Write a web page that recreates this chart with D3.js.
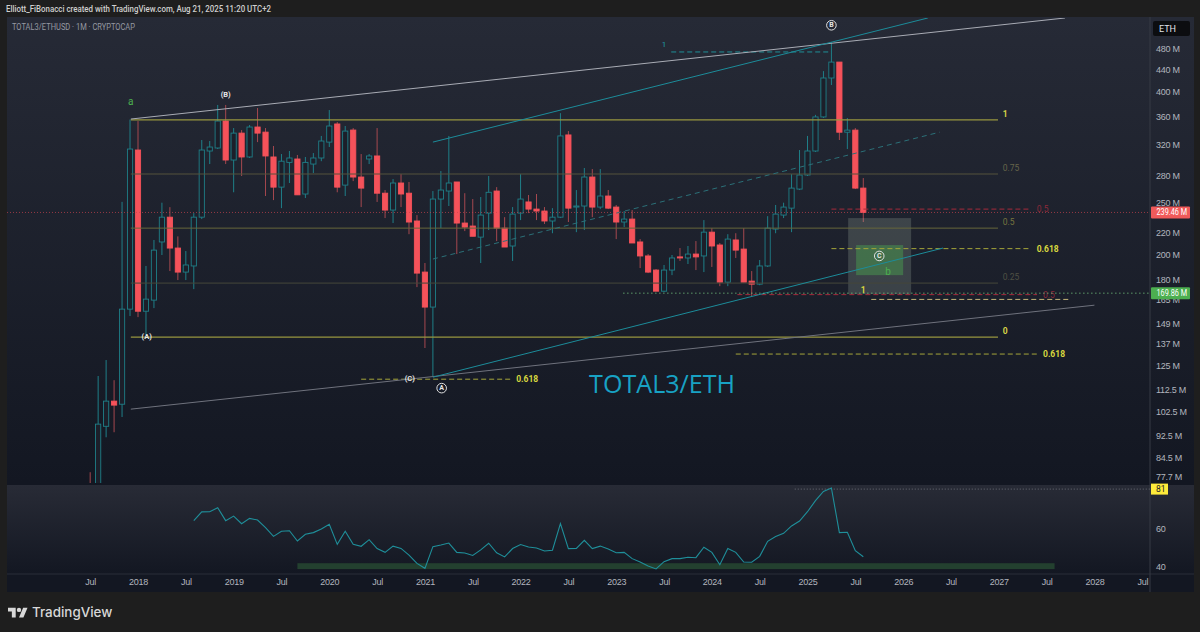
<!DOCTYPE html>
<html>
<head>
<meta charset="utf-8">
<title>TOTAL3/ETH</title>
<script src="https://cdn.jsdelivr.net/npm/d3@7"></script>
<style>
  html, body { margin: 0; padding: 0; background: #1e1e1e; }
  svg { display: block; font-family: Roboto, "Noto Sans", sans-serif; }
  .axis text { fill: #b2b5be; font-size: 9px; letter-spacing: -0.25px; }
  .axis path, .axis line { display: none; }
</style>
</head>
<body>
<div id="chart"></div>
<script>
// month index: 0 = Jan 2018, bars are evenly spaced like on TradingView
const firstMonth = -6;

// open, high, low, close in millions, month by month from Jul 2017
const candles = [
  [72, 79.3, 60, 66], [66, 119.4, 60, 97.3], [96.4, 127.8, 92, 107.3], [107.3, 117.3, 94, 105.5],
  [105.9, 250.5, 100.3, 158.7], [158.7, 355.5, 154.1, 313.6],
  // 2018
  [312.3, 353.3, 153.4, 157.3], [157.3, 190.7, 142.2, 165.6], [164.9, 213, 159.4, 204], [211.2, 249.6, 199.8, 234.7],
  [234.7, 244.9, 186.6, 205.8], [205.8, 216.3, 179.6, 185.8], [185.8, 203.2, 179.6, 191.5], [190.7, 238.8, 172.8, 234.7],
  [234.7, 325.9, 232.8, 312.3], [311, 324.5, 294.2, 316.3], [315, 378.3, 313.6, 353.3], [353.3, 378.3, 294.2, 299.3],
  // 2019
  [299.3, 342.9, 260.9, 335.6], [335.6, 340, 279.6, 303.2], [303.2, 347.4, 301.9, 344.4], [344.4, 373.4, 323, 335.6],
  [337, 342.9, 256.8, 304.5], [303.2, 317.7, 252.4, 266.7], [266.7, 307, 243.9, 297.8], [296.3, 311, 271.4, 301.9],
  [300.6, 305.8, 258.1, 258.1], [259, 303.2, 254.6, 296.3], [294.2, 308.3, 283.2, 301.9], [301.9, 331.6, 297.8, 324.5],
  // 2020
  [323, 370.2, 316.3, 345.9], [348.9, 351.9, 260.9, 266.7], [269, 345.9, 256.8, 338.5], [340, 342.9, 273.6, 278.4],
  [278.4, 307, 245, 265.6], [300.6, 307, 294.2, 304.5], [304.5, 342.9, 250.4, 259.9], [259.9, 263.4, 233.8, 241.9],
  [241.9, 276, 228.9, 271.4], [271.4, 281.9, 245, 259], [259.9, 272.6, 218.3, 229.9], [230.9, 236.8, 174.3, 185],
  // 2021
  [185.8, 193.1, 134.5, 160.1], [160.1, 262.3, 119.4, 253.5], [253.5, 285.6, 224, 263.4], [262.3, 331.6, 246.1, 271.4],
  [272.6, 272.6, 200.6, 228.9], [228.9, 259.9, 221.2, 225], [226, 253.5, 216.4, 216.4], [215.6, 255.7, 193.1, 236.8],
  [238.8, 279.6, 222.2, 260.9], [262.3, 266.7, 212, 224], [224, 234.7, 206.7, 206.7], [207.6, 245, 194.8, 237.8],
  // 2022
  [238.8, 281.9, 231.8, 253.5], [250.4, 257.9, 238.8, 242.9], [242.9, 259, 231.8, 240.9], [240.9, 245, 228, 230.9],
  [230.9, 243.9, 219.2, 234.7], [234.7, 365.3, 233.8, 331.6], [333, 338.5, 229.9, 243.9], [245, 263.4, 220.2, 246.1],
  [246.1, 289.3, 222.2, 278.4], [278.4, 288, 234.7, 245], [245, 288, 242.9, 256.8], [256.8, 263.4, 242.9, 243.9],
  // 2023
  [245, 247.2, 213.8, 229.9], [229.9, 240.9, 225, 232.8], [232.8, 241.9, 210.3, 210.3], [211.2, 213.8, 189, 199],
  [199, 200.6, 185, 185.8], [187.4, 188.2, 171.3, 171.3], [171.3, 191.5, 170.6, 187.4], [187.4, 199.8, 183.4, 197.3],
  [198.2, 205.8, 194.8, 197.3], [197.3, 207.6, 192.3, 200.6], [200.6, 212, 187.4, 198.2], [199, 231.8, 185.8, 220.2],
  // 2024
  [220.2, 224, 189.9, 207.6], [208.5, 210.3, 175, 178], [178, 218.3, 175, 213.8], [213, 219.2, 197.3, 204],
  [204.9, 224, 178, 178], [178.8, 186.6, 167.7, 176.5], [176.5, 195.6, 175.7, 190.7], [190.7, 235.7, 189.9, 224],
  [223.1, 247.2, 219.2, 237.8], [236.8, 249.6, 233.8, 245], [243.9, 281.9, 220.2, 265.6], [264.5, 312.3, 263.4, 280.8],
  // 2025
  [280.8, 331.6, 279.6, 311], [311, 362.7, 309.7, 359.5], [359.5, 436.9, 357.9, 424.3], [424.3, 494.5, 411.8, 454],
  [454, 454, 325.9, 336.9], [336.9, 357.9, 313.6, 339.9], [339.9, 342.9, 264.5, 265.6], [265.6, 277.2, 229.9, 239.46],
];

// RSI, starts Aug 2018
const rsiFirstMonth = 7;
const rsiValues = [
  64.4, 69, 69.1, 71.2, 64.4, 66.8, 62.8, 65.6, 64.7, 60.7, 56.1, 58.8, 59.1, 53.7, 57.2, 58.1, 60, 62.5, 51.9, 58.8,
  51.9, 50.9, 54.4, 49.7, 47.7, 51, 49.8, 46.3, 41.9, 39.3, 50.7, 51.6, 52.6, 47.7, 47.4, 46.1, 49, 52.5, 47.5, 45.3,
  49.7, 51.8, 50.5, 50, 48.4, 48.8, 62.8, 49.7, 49.8, 54, 49.7, 51, 49.5, 47.5, 47.7, 44.4, 42.6, 40.5, 39, 42.8,
  44.4, 44.4, 45.1, 44.9, 50.4, 47.7, 41.2, 49.7, 47.7, 42.6, 42.5, 45.6, 53.5, 56, 57.7, 61.6, 64.2, 69.1, 74.9, 79.8,
  81.6, 58.1, 58.3, 48.6, 45.4,
];

const priceTicks = [480, 440, 400, 360, 320, 280, 250, 220, 200, 180, 165, 149, 137, 125, 112.5, 102.5, 92.5, 84.5, 77.7];
const rsiTicks = [60, 40];
const timeTickLabels = ['Jul', '2018', 'Jul', '2019', 'Jul', '2020', 'Jul', '2021', 'Jul', '2022', 'Jul', '2023', 'Jul',
  '2024', 'Jul', '2025', 'Jul', '2026', 'Jul', '2027', 'Jul', '2028', 'Jul'];
const lastPrice = 239.46;
const pivotPrice = 169.86;
const rsiMax = 81;

// retracement levels: name, price, drawn from month -0.9 to 108
const fibLevels = [
  { name: '1', price: 355, kind: 'strong' },
  { name: '0.75', price: 282, kind: 'dim' },
  { name: '0.5', price: 224, kind: 'mid' },
  { name: '0.25', price: 177.3, kind: 'faint' },
  { name: '0', price: 140.9, kind: 'strong' },
];

// dashed levels: name, month from, month to, price
const dashedLevels = [
  { name: '0.618', from: 28, to: 46.7, price: 117.8, kind: 'yellow' },
  { name: '0.618', from: 87, to: 112, price: 205.3, kind: 'yellow' },
  { name: '0.618', from: 75, to: 112.8, price: 131.1, kind: 'yellow' },
  { name: '', from: 92, to: 116.8, price: 165.4, kind: 'cream' },
  { name: '0.5', from: 87, to: 112, price: 242.9, kind: 'red' },
  { name: '0.5', from: 75.2, to: 112.8, price: 168.8, kind: 'red' },
  { name: '', from: 66.9, to: 86.8, price: 474, kind: 'teal' },
];

// trend lines: month and price at both ends
const trendLines = [
  { a: [-0.9, 356.3], b: [116.3, 547.7], kind: 'white' },
  { a: [-0.9, 103.7], b: [120, 161.4], kind: 'gray' },
  { a: [37, 323], b: [99.1, 547.7], kind: 'teal' },
  { a: [37, 118.8], b: [101, 205.8], kind: 'teal' },
  { a: [37, 196.4], b: [100.6, 337], kind: 'tealDash' },
];

// target boxes: month from, month to, price top, price bottom
const boxes = [
  { from: 89.1, to: 97, top: 233.8, bottom: 169.2, kind: 'gray' },
  { from: 90.1, to: 96, top: 208.4, bottom: 183.4, kind: 'green' },
];

// wave labels: text, month, price
const waveLabels = [
  { text: 'a', month: -0.9, price: 384.7, kind: 'green' },
  { text: 'b', month: 94.1, price: 186.6, kind: 'green' },
  { text: '(B)', month: 11, price: 394.7, kind: 'white' },
  { text: '(A)', month: 1.1, price: 141.5, kind: 'white' },
  { text: '(C)', month: 34.1, price: 118.3, kind: 'white' },
  { text: '1', month: 66, price: 490, kind: 'teal' },
  { text: '1', month: 91, price: 172, kind: 'yellow' },
];
const circledLabels = [
  { text: 'A', month: 38.1, price: 113.4 },
  { text: 'B', month: 87, price: 531 },
  { text: 'C', month: 93, price: 199 },
];

// RSI oversold band, months and RSI values
const rsiBand = { from: 20, to: 115, top: 42, bottom: 38.9 };

const width = 1200;
const height = 632;
const pane = { left: 7, right: 1150, outer: 1194, top: 17, bottom: 483, rsiTop: 485, rsiBottom: 574, end: 592 };

const x = d3.scaleLinear().domain([0, 84]).range([138, 807.5]);
const y = d3.scaleLog().domain([480, 77.7]).range([49, 477]);
const yRsi = d3.scaleLinear().domain([40, 60]).range([567, 529]);

const svg = d3.select('#chart').append('svg').attr('width', width).attr('height', height);

const defs = svg.append('defs');
const addGradient = (id, from, to) => {
  const g = defs.append('linearGradient').attr('id', id).attr('x1', 0).attr('y1', 0).attr('x2', 0).attr('y2', 1);
  g.append('stop').attr('offset', '0%').attr('stop-color', from);
  g.append('stop').attr('offset', '100%').attr('stop-color', to);
};
addGradient('paneBg', '#262a36', '#131722');
addGradient('rsiBg', '#282b36', '#131722');
defs.append('clipPath').attr('id', 'paneClip').append('rect')
  .attr('x', pane.left).attr('y', pane.top + 1)
  .attr('width', pane.right - pane.left).attr('height', pane.bottom - pane.top - 1);

// backgrounds
svg.append('rect').attr('width', width).attr('height', height).attr('fill', '#1e1e1e');
svg.append('rect').attr('x', pane.left).attr('y', pane.top).attr('width', pane.outer - pane.left)
  .attr('height', pane.end - pane.top).attr('fill', '#131722');
svg.append('rect').attr('x', pane.left).attr('y', pane.top).attr('width', pane.outer - pane.left)
  .attr('height', pane.bottom - pane.top).attr('fill', 'url(#paneBg)');
svg.append('rect').attr('x', pane.left).attr('y', pane.rsiTop).attr('width', pane.outer - pane.left)
  .attr('height', pane.rsiBottom - pane.rsiTop).attr('fill', 'url(#rsiBg)');
svg.append('line').attr('x1', pane.left).attr('x2', pane.outer).attr('y1', pane.rsiBottom).attr('y2', pane.rsiBottom)
  .attr('stroke', '#2a2e39');
svg.append('line').attr('x1', pane.right).attr('x2', pane.right).attr('y1', pane.top).attr('y2', pane.end)
  .attr('stroke', '#363a45');

svg.append('text').attr('x', 6).attr('y', 12).attr('fill', '#cfcfcf').attr('font-size', 8.8).attr('font-weight', 500)
  .attr('textLength', 265).attr('lengthAdjust', 'spacingAndGlyphs')
  .text('Elliott_FiBonacci created with TradingView.com, Aug 21, 2025 11:20 UTC+2');
svg.append('text').attr('x', 12).attr('y', 30).attr('fill', '#9598a1').attr('font-size', 8.4)
  .attr('textLength', 123).attr('lengthAdjust', 'spacingAndGlyphs')
  .text('TOTAL3/ETHUSD · 1M · CRYPTOCAP');

const chart = svg.append('g').attr('clip-path', 'url(#paneClip)');

// candles
const upColor = '#1f7f88';
const downBody = '#f5525a';
const downWick = '#a5484f';
const bars = chart.selectAll('.bar')
  .data(candles)
  .enter()
  .append('g')
  .attr('class', 'bar')
  .attr('transform', (d, i) => `translate(${x(firstMonth + i)},0)`);

bars.append('line')
  .attr('y1', d => y(d[1]))
  .attr('y2', d => y(d[2]))
  .attr('stroke', d => (d[3] >= d[0] ? upColor : downWick));

bars.append('rect')
  .attr('x', -2.6)
  .attr('width', 5.2)
  .attr('y', d => y(Math.max(d[0], d[3])))
  .attr('height', d => Math.max(1, Math.abs(y(d[0]) - y(d[3]))))
  .attr('fill', d => (d[3] >= d[0] ? '#1c1f2a' : downBody))
  .attr('stroke', d => (d[3] >= d[0] ? upColor : downBody))
  .attr('stroke-width', 0.9);

// boxes
const boxFill = { gray: 'rgba(170,185,170,0.23)', green: 'rgba(76,175,80,0.42)' };
chart.selectAll('.box')
  .data(boxes)
  .enter()
  .append('rect')
  .attr('x', d => x(d.from))
  .attr('width', d => x(d.to) - x(d.from))
  .attr('y', d => y(d.top))
  .attr('height', d => y(d.bottom) - y(d.top))
  .attr('fill', d => boxFill[d.kind]);

// retracement levels
const fibColor = { strong: '#97963f', mid: '#66663c', dim: '#55533c', faint: '#46473a' };
const fibText = { strong: '#d6d447', mid: '#77763f', dim: '#66654a', faint: '#4f5044' };
chart.selectAll('.fib')
  .data(fibLevels)
  .enter()
  .append('line')
  .attr('x1', x(-0.9))
  .attr('x2', x(107.9))
  .attr('y1', d => y(d.price))
  .attr('y2', d => y(d.price))
  .attr('stroke', d => fibColor[d.kind])
  .attr('stroke-width', d => (d.kind === 'strong' ? 1.4 : 1));
chart.selectAll('.fib-label')
  .data(fibLevels)
  .enter()
  .append('text')
  .attr('x', x(108.5))
  .attr('y', d => y(d.price) - 3)
  .attr('fill', d => fibText[d.kind])
  .attr('font-size', 8.5)
  .attr('font-weight', d => (d.kind === 'strong' ? 700 : 400))
  .text(d => d.name);

// dashed levels
const dashColor = { yellow: '#a5a53a', cream: '#c4b478', red: '#a52b3c', teal: '#1f8f97' };
const dashText = { yellow: '#d8d83f', red: '#8c2a3a' };
chart.selectAll('.dash')
  .data(dashedLevels)
  .enter()
  .append('line')
  .attr('x1', d => x(d.from))
  .attr('x2', d => x(d.to))
  .attr('y1', d => y(d.price))
  .attr('y2', d => y(d.price))
  .attr('stroke', d => dashColor[d.kind])
  .attr('stroke-dasharray', '5 3');
chart.selectAll('.dash-label')
  .data(dashedLevels.filter(d => d.name))
  .enter()
  .append('text')
  .attr('x', d => x(d.to) + 6)
  .attr('y', d => y(d.price) + 3)
  .attr('fill', d => dashText[d.kind])
  .attr('font-size', 8.5)
  .attr('font-weight', d => (d.kind === 'yellow' ? 700 : 400))
  .text(d => d.name);

// trend lines
const trendColor = { white: '#a9acb5', gray: '#6f727d', teal: '#1c8c9a', tealDash: '#2b7078' };
chart.selectAll('.trend')
  .data(trendLines)
  .enter()
  .append('line')
  .attr('x1', d => x(d.a[0]))
  .attr('y1', d => y(d.a[1]))
  .attr('x2', d => x(d.b[0]))
  .attr('y2', d => y(d.b[1]))
  .attr('stroke', d => trendColor[d.kind])
  .attr('stroke-dasharray', d => (d.kind === 'tealDash' ? '5 4' : null));

// last price and pivot lines
chart.append('line').attr('x1', pane.left).attr('x2', pane.right)
  .attr('y1', y(lastPrice)).attr('y2', y(lastPrice))
  .attr('stroke', '#c8434e').attr('stroke-opacity', 0.7).attr('stroke-dasharray', '1 2');
chart.append('line').attr('x1', x(60.9)).attr('x2', pane.right)
  .attr('y1', y(pivotPrice)).attr('y2', y(pivotPrice))
  .attr('stroke', '#7fd88a').attr('stroke-dasharray', '1 3');

// wave labels
const waveColor = { green: '#4caf50', white: '#e8e8e8', teal: '#1e9aa8', yellow: '#d8d83f' };
const waveSize = { green: 10, white: 7.5, teal: 8, yellow: 8.5 };
chart.selectAll('.wave')
  .data(waveLabels)
  .enter()
  .append('text')
  .attr('x', d => x(d.month))
  .attr('y', d => y(d.price))
  .attr('text-anchor', 'middle')
  .attr('dominant-baseline', 'central')
  .attr('fill', d => waveColor[d.kind])
  .attr('font-size', d => waveSize[d.kind])
  .attr('font-weight', d => (d.kind === 'white' || d.kind === 'yellow' ? 700 : 400))
  .text(d => d.text);

const circled = chart.selectAll('.circled')
  .data(circledLabels)
  .enter()
  .append('g')
  .attr('transform', d => `translate(${x(d.month)},${y(d.price)})`);
circled.append('circle').attr('r', 4.8).attr('fill', 'none').attr('stroke', '#e0e0e0');
circled.append('text')
  .attr('text-anchor', 'middle')
  .attr('dominant-baseline', 'central')
  .attr('fill', '#e8e8e8')
  .attr('font-size', 7)
  .attr('font-weight', 700)
  .text(d => d.text);

chart.append('text')
  .attr('x', x(56.6))
  .attr('y', y(110.9))
  .attr('fill', '#18a2c4')
  .attr('font-family', '"Open Sans", sans-serif')
  .attr('font-size', 25)
  .attr('textLength', 146)
  .attr('lengthAdjust', 'spacingAndGlyphs')
  .text('TOTAL3/ETH');

// RSI pane
svg.append('rect')
  .attr('x', x(rsiBand.from))
  .attr('width', x(rsiBand.to) - x(rsiBand.from))
  .attr('y', yRsi(rsiBand.top))
  .attr('height', yRsi(rsiBand.bottom) - yRsi(rsiBand.top))
  .attr('fill', '#23402f');

svg.append('line')
  .attr('x1', x(82.4)).attr('x2', pane.right)
  .attr('y1', yRsi(rsiMax)).attr('y2', yRsi(rsiMax))
  .attr('stroke', '#6a6d75').attr('stroke-dasharray', '1 2');

const rsiLine = d3.line()
  .x((d, i) => x(rsiFirstMonth + i))
  .y(d => yRsi(d));
svg.append('path')
  .datum(rsiValues)
  .attr('d', rsiLine)
  .attr('fill', 'none')
  .attr('stroke', '#1f8f9a')
  .attr('stroke-width', 1.1);

// axes
const priceAxis = d3.axisRight(y).tickValues(priceTicks).tickSize(0).tickPadding(0).tickFormat(d => d + ' M');
svg.append('g').attr('class', 'axis').attr('transform', `translate(${pane.right + 6},0)`).call(priceAxis);

const rsiAxis = d3.axisRight(yRsi).tickValues(rsiTicks).tickSize(0).tickPadding(0);
svg.append('g').attr('class', 'axis').attr('transform', `translate(${pane.right + 6},0)`).call(rsiAxis);

const timeTicks = timeTickLabels.map((d, i) => firstMonth + i * 6);
const timeAxis = d3.axisBottom(x).tickValues(timeTicks).tickSize(0).tickPadding(0)
  .tickFormat((d, i) => timeTickLabels[i]);
svg.append('g').attr('class', 'axis').attr('transform', `translate(0,${pane.rsiBottom + 5})`).call(timeAxis);

// scale button and price tags
svg.append('rect').attr('x', 1153).attr('y', 21).attr('width', 37).attr('height', 15).attr('rx', 2).attr('fill', '#0c0d10');
svg.append('text').attr('x', 1159).attr('y', 32).attr('fill', '#e0e3eb').attr('font-size', 9).text('ETH');

const priceTags = [
  { value: lastPrice, text: '239.46 M', fill: '#f05a5a' },
  { value: pivotPrice, text: '169.86 M', fill: '#4caf50' },
];
const tags = svg.selectAll('.tag')
  .data(priceTags)
  .enter()
  .append('g')
  .attr('transform', d => `translate(${pane.right + 1},${y(d.value)})`);
tags.append('rect').attr('y', -6).attr('width', 39).attr('height', 12).attr('rx', 1).attr('fill', d => d.fill);
tags.append('text').attr('x', 5.5).attr('y', 3).attr('fill', '#fff').attr('font-size', 9)
  .attr('textLength', 30.5).attr('lengthAdjust', 'spacingAndGlyphs').text(d => d.text);

const rsiTag = svg.append('g').attr('transform', `translate(${pane.right + 1},${yRsi(rsiMax)})`);
rsiTag.append('rect').attr('y', -5.5).attr('width', 17).attr('height', 11).attr('fill', '#ffeb3b');
rsiTag.append('text').attr('x', 5).attr('y', 3).attr('fill', '#222').attr('font-size', 8.5).text(rsiMax);

// logo
const logo = svg.append('g').attr('transform', 'translate(8,605.5) scale(0.55)').attr('fill', '#d8d8d8');
logo.append('path').attr('d', 'M14 22H7V11H0V4h14v18zM28 22h-8l7.5-18h8L28 22z');
logo.append('circle').attr('cx', 20).attr('cy', 8).attr('r', 4);
svg.append('text').attr('x', 32).attr('y', 617).attr('fill', '#d8d8d8')
  .attr('font-family', 'Inter, sans-serif').attr('font-size', 13.4).attr('font-weight', 500).text('TradingView');
</script>
</body>
</html>
